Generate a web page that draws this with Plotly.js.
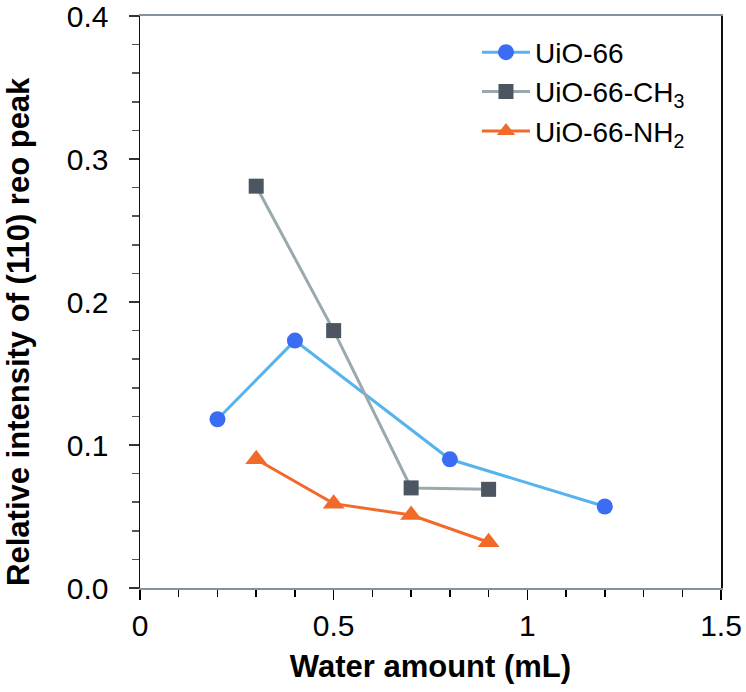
<!DOCTYPE html>
<html>
<head>
<meta charset="utf-8">
<script src="https://cdn.plot.ly/plotly-3.0.1.min.js"></script>
<style>html,body{margin:0;padding:0;background:#fff;}#chart{width:746px;height:692px;}</style>
</head>
<body>
<div id="chart"></div>
<script>
var seriesNames = ["UiO-66", "UiO-66-CH<sub>3</sub>", "UiO-66-NH<sub>2</sub>"];
var uioX = [0.2, 0.4, 0.8, 1.2];
var uioY = [0.118, 0.173, 0.090, 0.057];
var ch3X = [0.3, 0.5, 0.7, 0.9];
var ch3Y = [0.281, 0.180, 0.070, 0.069];
var nh2X = [0.3, 0.5, 0.7, 0.9];
var nh2Y = [0.090, 0.059, 0.051, 0.032];
var xTickVals = [0, 0.5, 1, 1.5];
var xTickText = ["0", "0.5", "1", "1.5"];
var yTickVals = [0, 0.1, 0.2, 0.3, 0.4];
var yTickText = ["0.0", "0.1", "0.2", "0.3", "0.4"];
var xTitle = "Water amount (mL)";
var yTitle = "Relative intensity of (110) reo peak";

var FONT = "Liberation Sans, Arial, sans-serif";

var traces = [
  {x: uioX, y: uioY, name: seriesNames[0], type: "scatter", mode: "lines+markers",
   line: {color: "#55b4ee", width: 3},
   marker: {symbol: "circle", size: 16, color: "#3a6cf4"}},
  {x: ch3X, y: ch3Y, name: seriesNames[1], type: "scatter", mode: "lines+markers",
   line: {color: "#9aa9ad", width: 3},
   marker: {symbol: "square", size: 15, color: "#4b5661"}},
  {x: nh2X, y: nh2Y, name: seriesNames[2], type: "scatter", mode: "lines+markers",
   line: {color: "#f26a2a", width: 3},
   marker: {symbol: "triangle-up", size: 19, color: "#f26a2a"}}
];

var layout = {
  width: 746, height: 692,
  margin: {l: 140, r: 25, t: 16, b: 104},
  paper_bgcolor: "#fff", plot_bgcolor: "#fff",
  font: {family: FONT, color: "#000", size: 28},
  showlegend: true,
  legend: {x: 0.58, y: 0.98, xanchor: "left", yanchor: "top", itemwidth: 48,
           font: {family: FONT, size: 28, color: "#000"}, tracegroupgap: 0,
           bgcolor: "rgba(0,0,0,0)"},
  xaxis: {
    range: [0, 1.5], tickvals: xTickVals, ticktext: xTickText,
    showgrid: false, zeroline: false,
    showline: true, linecolor: "#7f939b", linewidth: 2, mirror: true,
    ticks: "outside", ticklen: 10, tickwidth: 1.5, tickcolor: "#000",
    ticklabeloverflow: "allow",
    minor: {dtick: 0.1, ticks: "outside", ticklen: 7, tickwidth: 1.5, tickcolor: "#000", showgrid: false},
    tickfont: {family: FONT, size: 30, color: "#000"},
    title: {text: "<b>" + xTitle + "</b>", font: {family: FONT, size: 31, color: "#000"}, standoff: 14}
  },
  yaxis: {
    range: [0, 0.4], tickvals: yTickVals, ticktext: yTickText,
    showgrid: false, zeroline: false,
    showline: true, linecolor: "#111", linewidth: 1.5, mirror: true,
    ticks: "outside", ticklen: 10, tickwidth: 1.5, tickcolor: "#333",
    ticklabelstandoff: 14, ticklabeloverflow: "allow",
    minor: {dtick: 0.02, ticks: "outside", ticklen: 7, tickwidth: 1.5, tickcolor: "#555", showgrid: false},
    tickfont: {family: FONT, size: 30, color: "#000"}
  },
  annotations: [{
    text: "<b>" + yTitle + "</b>", xref: "paper", yref: "paper",
    x: -0.208, y: 0.448, xanchor: "center", yanchor: "middle",
    textangle: -90, showarrow: false,
    font: {family: FONT, size: 31, color: "#000"}
  }]
};

Plotly.newPlot("chart", traces, layout, {displayModeBar: false, staticPlot: true});
</script>
</body>
</html>
